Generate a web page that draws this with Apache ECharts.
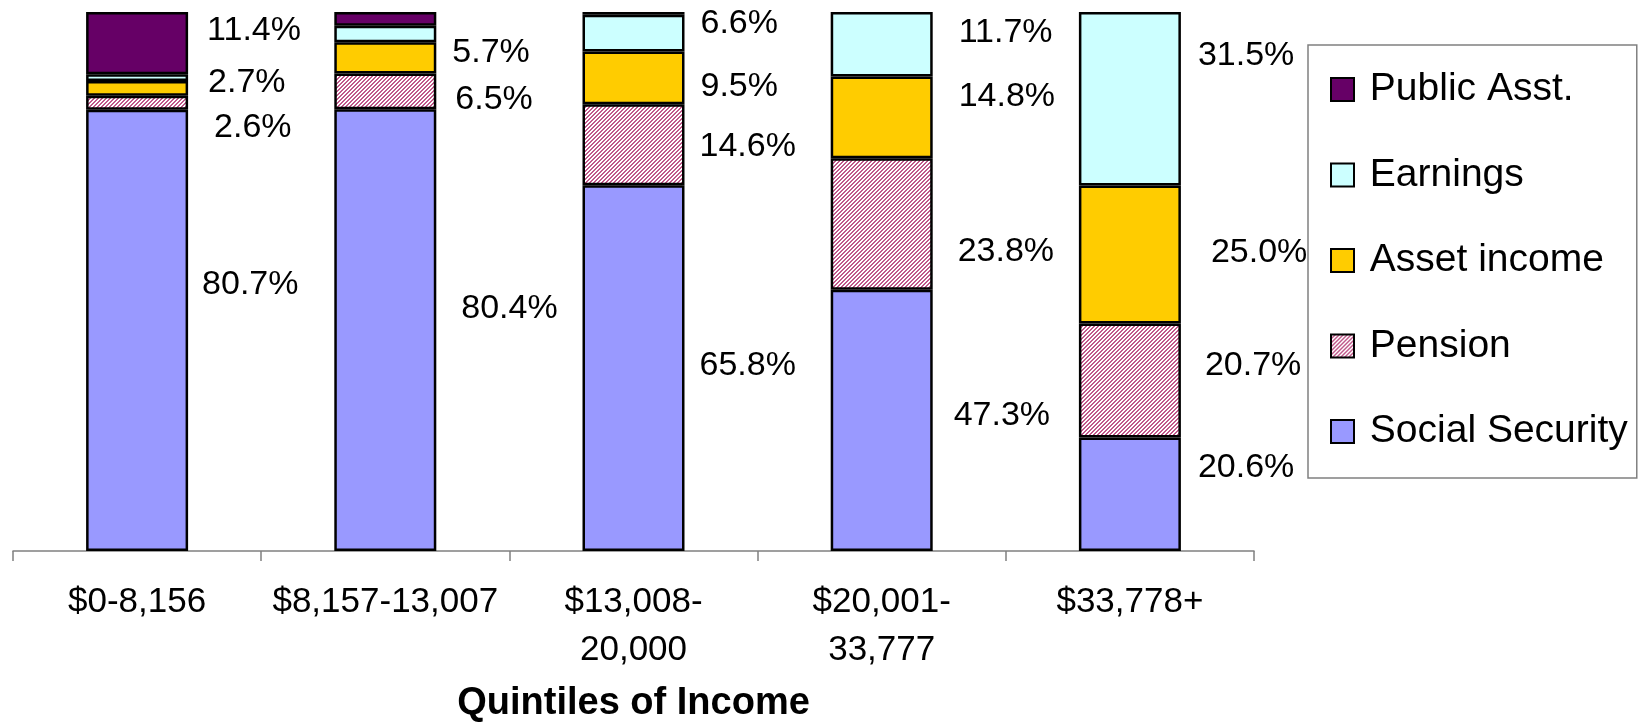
<!DOCTYPE html>
<html>
<head>
<meta charset="utf-8">
<title>Income sources by quintile</title>
<script src="https://cdn.jsdelivr.net/npm/echarts@6/dist/echarts.min.js"></script>
<style>
    html, body { margin: 0; padding: 0; background: #fff; }
    #chart { width: 1640px; height: 728px; }
</style>
</head>
<body>
<div id="chart"></div>
<script>
// categories on the x axis
var quintiles = ['$0-8,156', '$8,157-13,007', '$13,008-\n20,000', '$20,001-\n33,777', '$33,778+'];

// percent of income by source (bottom of stack first)
var socialSecurity = [80.7, 80.4, 65.8, 47.3, 20.6];
var pension        = [2.6, 6.5, 14.6, 23.8, 20.7];
var assetIncome    = [2.7, 5.7, 9.5, 14.8, 25.0];
var earnings       = [1.2, 3.0, 6.6, 11.7, 31.5];   // unlabeled in q1/q2, estimated
var publicAsst     = [11.4, 2.5, 0.5, 0, 0];         // unlabeled in q2/q3, estimated

var seriesNames = ['Social Security', 'Pension', 'Asset income', 'Earnings', 'Public Asst.'];
var seriesData = [socialSecurity, pension, assetIncome, earnings, publicAsst];

// label nudges [dx, dy] from the default 'right' spot, null = no label
var labelNudge = [
    [[9, -46], [20, -22], [10, -3], [16, -5], [12, -27]],
    [[21, 25], [14, 8], [10, 2], [20, 28], [19, -15]],
    [[15, -6], [11, -5], [11, 9], [21, -21], [25, -2]],
    [null, null, [11, -9], [21, -12], [12, -43]],
    [[14, -13], null, null, null, null]
];

var FONT = '"Liberation Sans", Arial, sans-serif';

// hatch fill for the pension bars
function makeHatch() {
    var c = document.createElement('canvas');
    c.width = 4;
    c.height = 4;
    var ctx = c.getContext('2d');
    ctx.fillStyle = '#ffffff';
    ctx.fillRect(0, 0, 4, 4);
    ctx.fillStyle = '#c0588a';
    for (var x = 0; x < 4; x++) {
        for (var y = 0; y < 4; y++) {
            if ((x + y) % 4 === 3 || (x + y) % 4 === 0) {
                ctx.fillRect(x, y, 1, 1);
            }
        }
    }
    return c;
}

var fills = ['#9999ff', { image: makeHatch(), repeat: 'repeat' }, '#ffcc00', '#ccffff', '#660066'];

// 100% stacked: each bar is scaled to its own total
var totals = quintiles.map(function (q, i) {
    var t = 0;
    seriesData.forEach(function (arr) { t += arr[i]; });
    return t;
});

var series = seriesData.map(function (arr, si) {
    return {
        name: seriesNames[si],
        type: 'bar',
        stack: 'income',
        barWidth: 102,
        itemStyle: { color: fills[si], borderColor: '#000', borderWidth: 2.5 },
        data: arr.map(function (v, di) {
            var item = { value: v > 0 ? v / totals[di] * 100 : '-' };
            var nudge = labelNudge[si][di];
            if (nudge) {
                item.label = { show: true, offset: nudge };
            }
            return item;
        }),
        label: {
            show: false,
            position: 'right',
            distance: 5,
            color: '#000',
            fontFamily: FONT,
            fontSize: 34,
            formatter: function (p) {
                return seriesData[p.seriesIndex][p.dataIndex].toFixed(1) + '%';
            }
        }
    };
});

var chart = echarts.init(document.getElementById('chart'), null, { renderer: 'canvas' });
chart.setOption({
    animation: false,
    backgroundColor: '#fff',
    grid: { left: 13, right: 386, top: 12, bottom: 173 },
    xAxis: {
        type: 'category',
        data: quintiles,
        axisLine: { lineStyle: { color: '#808080', width: 1.5 } },
        axisTick: { show: true, length: 10, interval: 0, lineStyle: { color: '#808080', width: 1.5 } },
        axisLabel: {
            interval: 0,
            margin: 27,
            color: '#000',
            fontFamily: FONT,
            fontSize: 35,
            lineHeight: 48
        },
        name: 'Quintiles of Income',
        nameLocation: 'middle',
        nameGap: 134,
        nameTextStyle: { color: '#000', fontFamily: FONT, fontSize: 38, fontWeight: 'bold' }
    },
    yAxis: {
        type: 'value',
        min: 0,
        max: 100,
        show: false
    },
    legend: {
        orient: 'vertical',
        left: 1308,
        top: 45,
        padding: [25, 9, 27, 22],
        itemGap: 46.5,
        itemWidth: 23,
        itemHeight: 23,
        icon: 'rect',
        backgroundColor: '#fff',
        borderColor: '#808080',
        borderWidth: 1.5,
        borderRadius: 0,
        data: seriesNames.slice().reverse(),
        formatter: function (name) { return ' ' + name; },
        itemStyle: { borderColor: '#000', borderWidth: 2 },
        textStyle: { color: '#000', fontFamily: FONT, fontSize: 39 }
    },
    series: series
});
</script>
</body>
</html>
